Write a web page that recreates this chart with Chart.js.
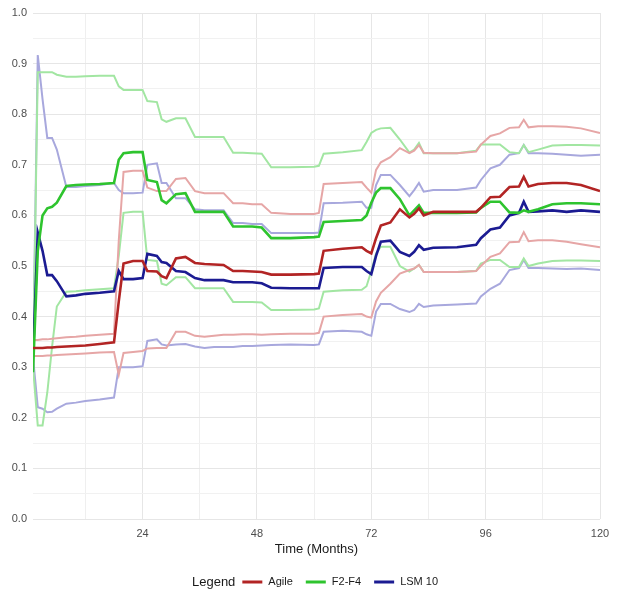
<!DOCTYPE html>
<html>
<head>
<meta charset="utf-8">
<script src="https://cdn.jsdelivr.net/npm/chart.js@4"></script>
<style>
  html, body { margin: 0; padding: 0; background: #fff; }
  #wrap { width: 621px; height: 602px; }
</style>
</head>
<body>
<div id="wrap"><canvas id="survChart" width="621" height="602"></canvas></div>
<script>
const months = [1,2,3,4,5,6,8,10,12,15,18,19,20,22,24,25,27,28,29,31,33,35,37,39,41,43,45,47,49,51,55,60,61,62,66,70,71,72,73,74,76,78,80,81,82,83,85,90,94,95,97,99,101,103,104,105,107,110,113,116,120];

const agile = [0.338,0.338,0.338,0.339,0.339,0.34, 0.341,0.342,0.343,0.346,0.349, 0.43,0.505,0.51,0.51, 0.49,0.489,0.48,0.476, 0.515,0.518,0.506,0.504,0.503, 0.502,0.49,0.49,0.489,0.488, 0.483,0.483,0.484,0.485,0.53, 0.534,0.537,0.53,0.525,0.555, 0.58,0.586,0.612,0.596,0.603, 0.614,0.6,0.607,0.607,0.607, 0.615,0.636,0.637,0.656,0.657, 0.676,0.657,0.662,0.664,0.664, 0.66,0.648];
const agileUpper = [0.354,0.354,0.355,0.355,0.356,0.357, 0.359,0.36,0.362,0.364,0.366, 0.55,0.686,0.688,0.688, 0.655,0.648,0.648,0.648, 0.672,0.674,0.648,0.644,0.644, 0.644,0.624,0.624,0.622,0.622, 0.605,0.603,0.603,0.605,0.662, 0.664,0.666,0.655,0.645,0.69, 0.705,0.715,0.733,0.723,0.728, 0.739,0.724,0.723,0.723,0.726, 0.74,0.757,0.762,0.773,0.774, 0.789,0.774,0.776,0.776,0.775, 0.772,0.763];
const agileLower = [0.322,0.322,0.322,0.323,0.323,0.324, 0.325,0.326,0.327,0.329,0.33, 0.285,0.328,0.33,0.332, 0.337,0.338,0.338,0.338, 0.37,0.37,0.362,0.36,0.362, 0.364,0.364,0.365,0.365,0.364, 0.365,0.366,0.366,0.368,0.4, 0.403,0.405,0.4,0.398,0.43, 0.447,0.465,0.485,0.492,0.495, 0.502,0.488,0.488,0.488,0.49, 0.5,0.518,0.525,0.547,0.548, 0.567,0.549,0.551,0.551,0.548, 0.543,0.537];

const f2f4 = [0.29,0.53,0.6,0.614,0.617,0.625, 0.658,0.66,0.661,0.662,0.664, 0.71,0.723,0.725,0.725, 0.67,0.666,0.63,0.624, 0.642,0.644,0.607,0.607,0.607, 0.607,0.578,0.578,0.578,0.576, 0.555,0.555,0.557,0.558,0.587, 0.589,0.591,0.6,0.625,0.645, 0.654,0.654,0.632,0.6,0.61, 0.62,0.605,0.605,0.605,0.606, 0.615,0.627,0.627,0.606,0.605, 0.61,0.607,0.612,0.622,0.624, 0.624,0.622];
const f2f4Upper = [0.3,0.883,0.883,0.883,0.883,0.878, 0.874,0.874,0.875,0.876,0.876, 0.855,0.848,0.848,0.848, 0.826,0.824,0.79,0.785, 0.792,0.792,0.755,0.755,0.755, 0.755,0.724,0.724,0.723,0.722, 0.695,0.695,0.696,0.698,0.722, 0.725,0.729,0.745,0.763,0.769, 0.772,0.773,0.75,0.724,0.73, 0.743,0.723,0.723,0.723,0.728, 0.74,0.74,0.74,0.725,0.723, 0.739,0.725,0.73,0.738,0.739, 0.739,0.738];
const f2f4Lower = [0.3,0.185,0.185,0.25,0.34,0.42, 0.449,0.45,0.452,0.454,0.456, 0.52,0.605,0.607,0.607, 0.512,0.51,0.465,0.462, 0.478,0.478,0.456,0.456,0.456, 0.456,0.429,0.429,0.429,0.428, 0.413,0.413,0.414,0.416,0.449, 0.452,0.453,0.46,0.49,0.525, 0.538,0.538,0.5,0.489,0.495, 0.502,0.488,0.488,0.488,0.49, 0.505,0.512,0.512,0.498,0.498, 0.515,0.5,0.505,0.51,0.511, 0.511,0.51];

const lsm = [0.32,0.566,0.53,0.482,0.482,0.47, 0.44,0.442,0.445,0.447,0.45, 0.49,0.474,0.474,0.476, 0.524,0.52,0.508,0.506, 0.49,0.488,0.476,0.472,0.472, 0.472,0.468,0.468,0.468,0.466, 0.457,0.456,0.456,0.456,0.496, 0.498,0.498,0.49,0.484,0.52, 0.548,0.55,0.528,0.52,0.528, 0.541,0.532,0.536,0.537,0.542, 0.555,0.572,0.576,0.6,0.605, 0.627,0.607,0.608,0.61,0.607, 0.61,0.607];
const lsmUpper = [0.31,0.917,0.83,0.753,0.753,0.73, 0.656,0.656,0.658,0.66,0.664, 0.65,0.644,0.644,0.645, 0.7,0.703,0.664,0.664, 0.634,0.634,0.612,0.61,0.61, 0.61,0.585,0.585,0.583,0.583, 0.565,0.565,0.565,0.566,0.624, 0.625,0.627,0.615,0.615,0.66, 0.68,0.68,0.66,0.638,0.65, 0.664,0.647,0.65,0.65,0.655, 0.67,0.693,0.7,0.72,0.723, 0.739,0.723,0.723,0.722,0.72, 0.718,0.72];
const lsmLower = [0.32,0.221,0.218,0.211,0.212,0.218, 0.228,0.23,0.233,0.236,0.24, 0.3,0.3,0.3,0.302, 0.352,0.355,0.345,0.343, 0.345,0.346,0.341,0.338,0.34, 0.34,0.34,0.342,0.342,0.343, 0.344,0.345,0.344,0.345,0.37, 0.372,0.37,0.365,0.362,0.41, 0.425,0.425,0.415,0.409,0.413, 0.425,0.419,0.422,0.424,0.426, 0.44,0.455,0.465,0.492,0.496, 0.512,0.496,0.496,0.495,0.494, 0.495,0.492];

const xGridMonths = [12,24,36,48,60,72,84,96,108,120];
const xTickLabels = [24,48,72,96,120];
const legendNames = ['Agile','F2-F4','LSM 10'];

Chart.defaults.font.family = '"Liberation Sans", Arial, sans-serif';

function pts(vals) {
  return vals.map((v, i) => ({x: months[i], y: v}));
}

function line(label, vals, color, width) {
  return {
    label: label,
    data: pts(vals),
    borderColor: color,
    borderWidth: width,
    pointRadius: 0,
    tension: 0,
    fill: false
  };
}

// main curves first so they sit on top of the interval lines
const datasets = [
  line('Agile', agile, '#b22424', 2.6),
  line('F2-F4', f2f4, '#2ec42e', 2.6),
  line('LSM 10', lsm, '#1b1b92', 2.6),
  line('Agile upper', agileUpper, '#e6a6a6', 2),
  line('Agile lower', agileLower, '#e6a6a6', 2),
  line('F2-F4 upper', f2f4Upper, '#a2e6a2', 2),
  line('F2-F4 lower', f2f4Lower, '#a2e6a2', 2),
  line('LSM 10 upper', lsmUpper, '#a8a8dd', 2),
  line('LSM 10 lower', lsmLower, '#a8a8dd', 2)
];

// legend row drawn under the axis title, ggplot style
const bottomLegend = {
  id: 'bottomLegend',
  afterDraw(chart) {
    const ctx = chart.ctx;
    const y = 582;
    ctx.save();
    ctx.textBaseline = 'middle';
    ctx.font = '13px "Liberation Sans", Arial, sans-serif';
    const titleW = ctx.measureText('Legend').width;
    ctx.font = '11px "Liberation Sans", Arial, sans-serif';
    const widths = legendNames.map(n => ctx.measureText(n).width);
    let total = titleW + 7;
    widths.forEach((w, i) => { total += 20 + 6 + w + (i < widths.length - 1 ? 13 : 0); });
    let x = 315 - total / 2;

    ctx.fillStyle = '#1a1a1a';
    ctx.font = '13px "Liberation Sans", Arial, sans-serif';
    ctx.fillText('Legend', x, y);
    x += titleW + 7;
    ctx.font = '11px "Liberation Sans", Arial, sans-serif';
    legendNames.forEach((n, i) => {
      ctx.strokeStyle = chart.data.datasets[i].borderColor;
      ctx.lineWidth = 3;
      ctx.beginPath();
      ctx.moveTo(x, y);
      ctx.lineTo(x + 20, y);
      ctx.stroke();
      x += 26;
      ctx.fillText(n, x, y);
      x += widths[i] + 13;
    });
    ctx.restore();
  }
};

new Chart(document.getElementById('survChart'), {
  type: 'line',
  data: { datasets: datasets },
  options: {
    responsive: false,
    animation: false,
    layout: { padding: { left: 0, right: 21, top: 13, bottom: 38 } },
    plugins: {
      legend: { display: false },
      tooltip: { enabled: false }
    },
    scales: {
      x: {
        type: 'linear',
        min: 1,
        max: 120,
        afterBuildTicks: axis => { axis.ticks = xGridMonths.map(v => ({value: v})); },
        afterFit: axis => { axis.height = 45; },
        ticks: {
          autoSkip: false,
          maxRotation: 0,
          padding: 8,
          color: '#4d4d4d',
          font: { size: 11 },
          callback: v => xTickLabels.includes(v) ? String(v) : ''
        },
        grid: {
          drawTicks: false,
          color: c => (c.tick && c.tick.value % 24 === 0) ? '#e6e6e6' : '#efefef',
          lineWidth: 1
        },
        border: { display: false },
        title: {
          display: true,
          text: 'Time (Months)',
          color: '#1a1a1a',
          font: { size: 13 },
          padding: { top: 0, bottom: 7 }
        }
      },
      y: {
        min: 0,
        max: 1,
        afterFit: axis => { axis.width = 33; },
        ticks: {
          stepSize: 0.05,
          autoSkip: false,
          padding: 6,
          color: '#4d4d4d',
          font: { size: 11 },
          callback: v => Math.round(v * 100) % 10 === 0 ? v.toFixed(1) : ''
        },
        grid: {
          drawTicks: false,
          color: c => (c.tick && Math.round(c.tick.value * 100) % 10 === 0) ? '#e6e6e6' : '#f1f1f1',
          lineWidth: 1
        },
        border: { display: false }
      }
    }
  },
  plugins: [bottomLegend]
});
</script>
</body>
</html>
